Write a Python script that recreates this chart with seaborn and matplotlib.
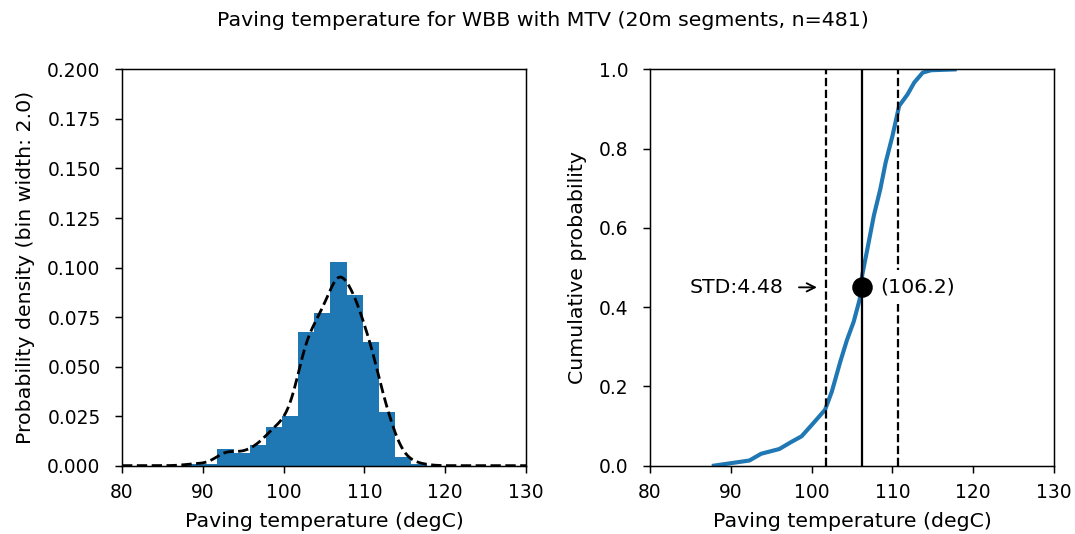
import numpy as np
import pandas as pd
import matplotlib
matplotlib.use("Agg")
import matplotlib.pyplot as plt
import seaborn as sns

# Histogram of paving temperatures (2 degC bins)
bin_edges = [87.8, 89.8, 91.8, 93.8, 95.8, 97.8, 99.8, 101.8, 103.8,
             105.8, 107.8, 109.8, 111.8, 113.8, 115.8, 117.8]
bin_counts = [1, 1, 8, 6, 10, 19, 24, 65, 74, 99, 83, 60, 26, 4, 1]

# Empirical cumulative distribution of the segment temperatures
cdf_temp = [87.9, 92.3, 93.75, 96.0, 97.5, 98.75, 100.2, 101.66, 102.5,
            103.54, 104.37, 105.2, 105.95, 106.25, 106.9, 107.7, 108.5,
            109.16, 110.0, 110.83, 111.87, 112.7, 113.75, 114.8, 117.7]
cdf_prob = [0.0, 0.013, 0.03, 0.042, 0.06, 0.074, 0.107, 0.141, 0.187,
            0.262, 0.317, 0.363, 0.42, 0.48, 0.547, 0.631, 0.698,
            0.765, 0.832, 0.908, 0.937, 0.967, 0.992, 0.998, 1.0]

# Summary statistics
mean_temp = 106.2
std_temp = 4.48
mean_cdf_level = 0.45
n_segments = 481

BLUE = "#1f77b4"
LABEL_SIZE = 11

centers = [(lo + hi) / 2 for lo, hi in zip(bin_edges[:-1], bin_edges[1:])]
hist_df = pd.DataFrame({"temp": centers, "count": bin_counts})
cdf_df = pd.DataFrame({"temp": cdf_temp, "prob": cdf_prob})

fig, (ax1, ax2) = plt.subplots(1, 2, figsize=(8, 534 / 134.375), dpi=134.375)
fig.subplots_adjust(left=0.1135, right=0.9805, bottom=0.128, top=0.870,
                    wspace=0.307)

# Left: density histogram with kernel density estimate
sns.histplot(data=hist_df, x="temp", weights="count", bins=list(bin_edges),
             stat="density", color=BLUE, alpha=1, linewidth=0, ax=ax1)
sns.kdeplot(data=hist_df, x="temp", weights="count", bw_method=0.262,
            cut=40, clip=(80, 130), gridsize=400, color="k",
            linestyle="--", linewidth=1.5, ax=ax1)
ax1.set_xlim(80, 130)
ax1.set_ylim(0, 0.2)
ax1.set_yticks(np.arange(0, 0.2001, 0.025))
ax1.yaxis.set_major_formatter(matplotlib.ticker.FormatStrFormatter("%.3f"))
ax1.set_xlabel("Paving temperature (degC)", fontsize=LABEL_SIZE, labelpad=5.3)
ax1.set_ylabel("Probability density (bin width: 2.0)", fontsize=LABEL_SIZE,
               labelpad=6.5)

# Right: cumulative distribution with mean and +/- one standard deviation
sns.lineplot(data=cdf_df, x="temp", y="prob", color=BLUE, linewidth=2.2,
             ax=ax2)
ax2.axvline(mean_temp, color="k", linewidth=1.2)
ax2.axvline(mean_temp - std_temp, color="k", linestyle="--", linewidth=1.2)
ax2.axvline(mean_temp + std_temp, color="k", linestyle="--", linewidth=1.2)
ax2.plot([mean_temp], [mean_cdf_level], "o", color="k", markersize=10,
         zorder=5)
ax2.text(mean_temp + 2.26, mean_cdf_level, f"({mean_temp:.1f})",
         ha="left", va="center", fontsize=LABEL_SIZE, zorder=4,
         bbox=dict(facecolor="white", edgecolor="none"))
ax2.annotate(f"STD:{std_temp:.2f}", xy=(mean_temp - std_temp, mean_cdf_level),
             xytext=(96.5, mean_cdf_level), ha="right", va="center",
             fontsize=LABEL_SIZE,
             bbox=dict(facecolor="white", edgecolor="none"),
             arrowprops=dict(arrowstyle="->", color="k", shrinkA=4.4,
                             shrinkB=4.6))
ax2.set_xlim(80, 130)
ax2.set_ylim(0, 1.0)
ax2.set_yticks(np.arange(0, 1.01, 0.2))
ax2.set_xlabel("Paving temperature (degC)", fontsize=LABEL_SIZE, labelpad=5.3)
ax2.set_ylabel("Cumulative probability", fontsize=LABEL_SIZE, labelpad=6.5)

for ax in (ax1, ax2):
    ax.set_xticks(np.arange(80, 131, 10))
    ax.tick_params(axis="x", pad=5.3, length=4)
    ax.tick_params(axis="y", pad=7.5, length=4)

fig.suptitle(f"Paving temperature for WBB with MTV (20m segments, n={n_segments})",
             fontsize=LABEL_SIZE, x=0.505, y=0.962, va="center")

fig.savefig("out.png", dpi=134.375)
